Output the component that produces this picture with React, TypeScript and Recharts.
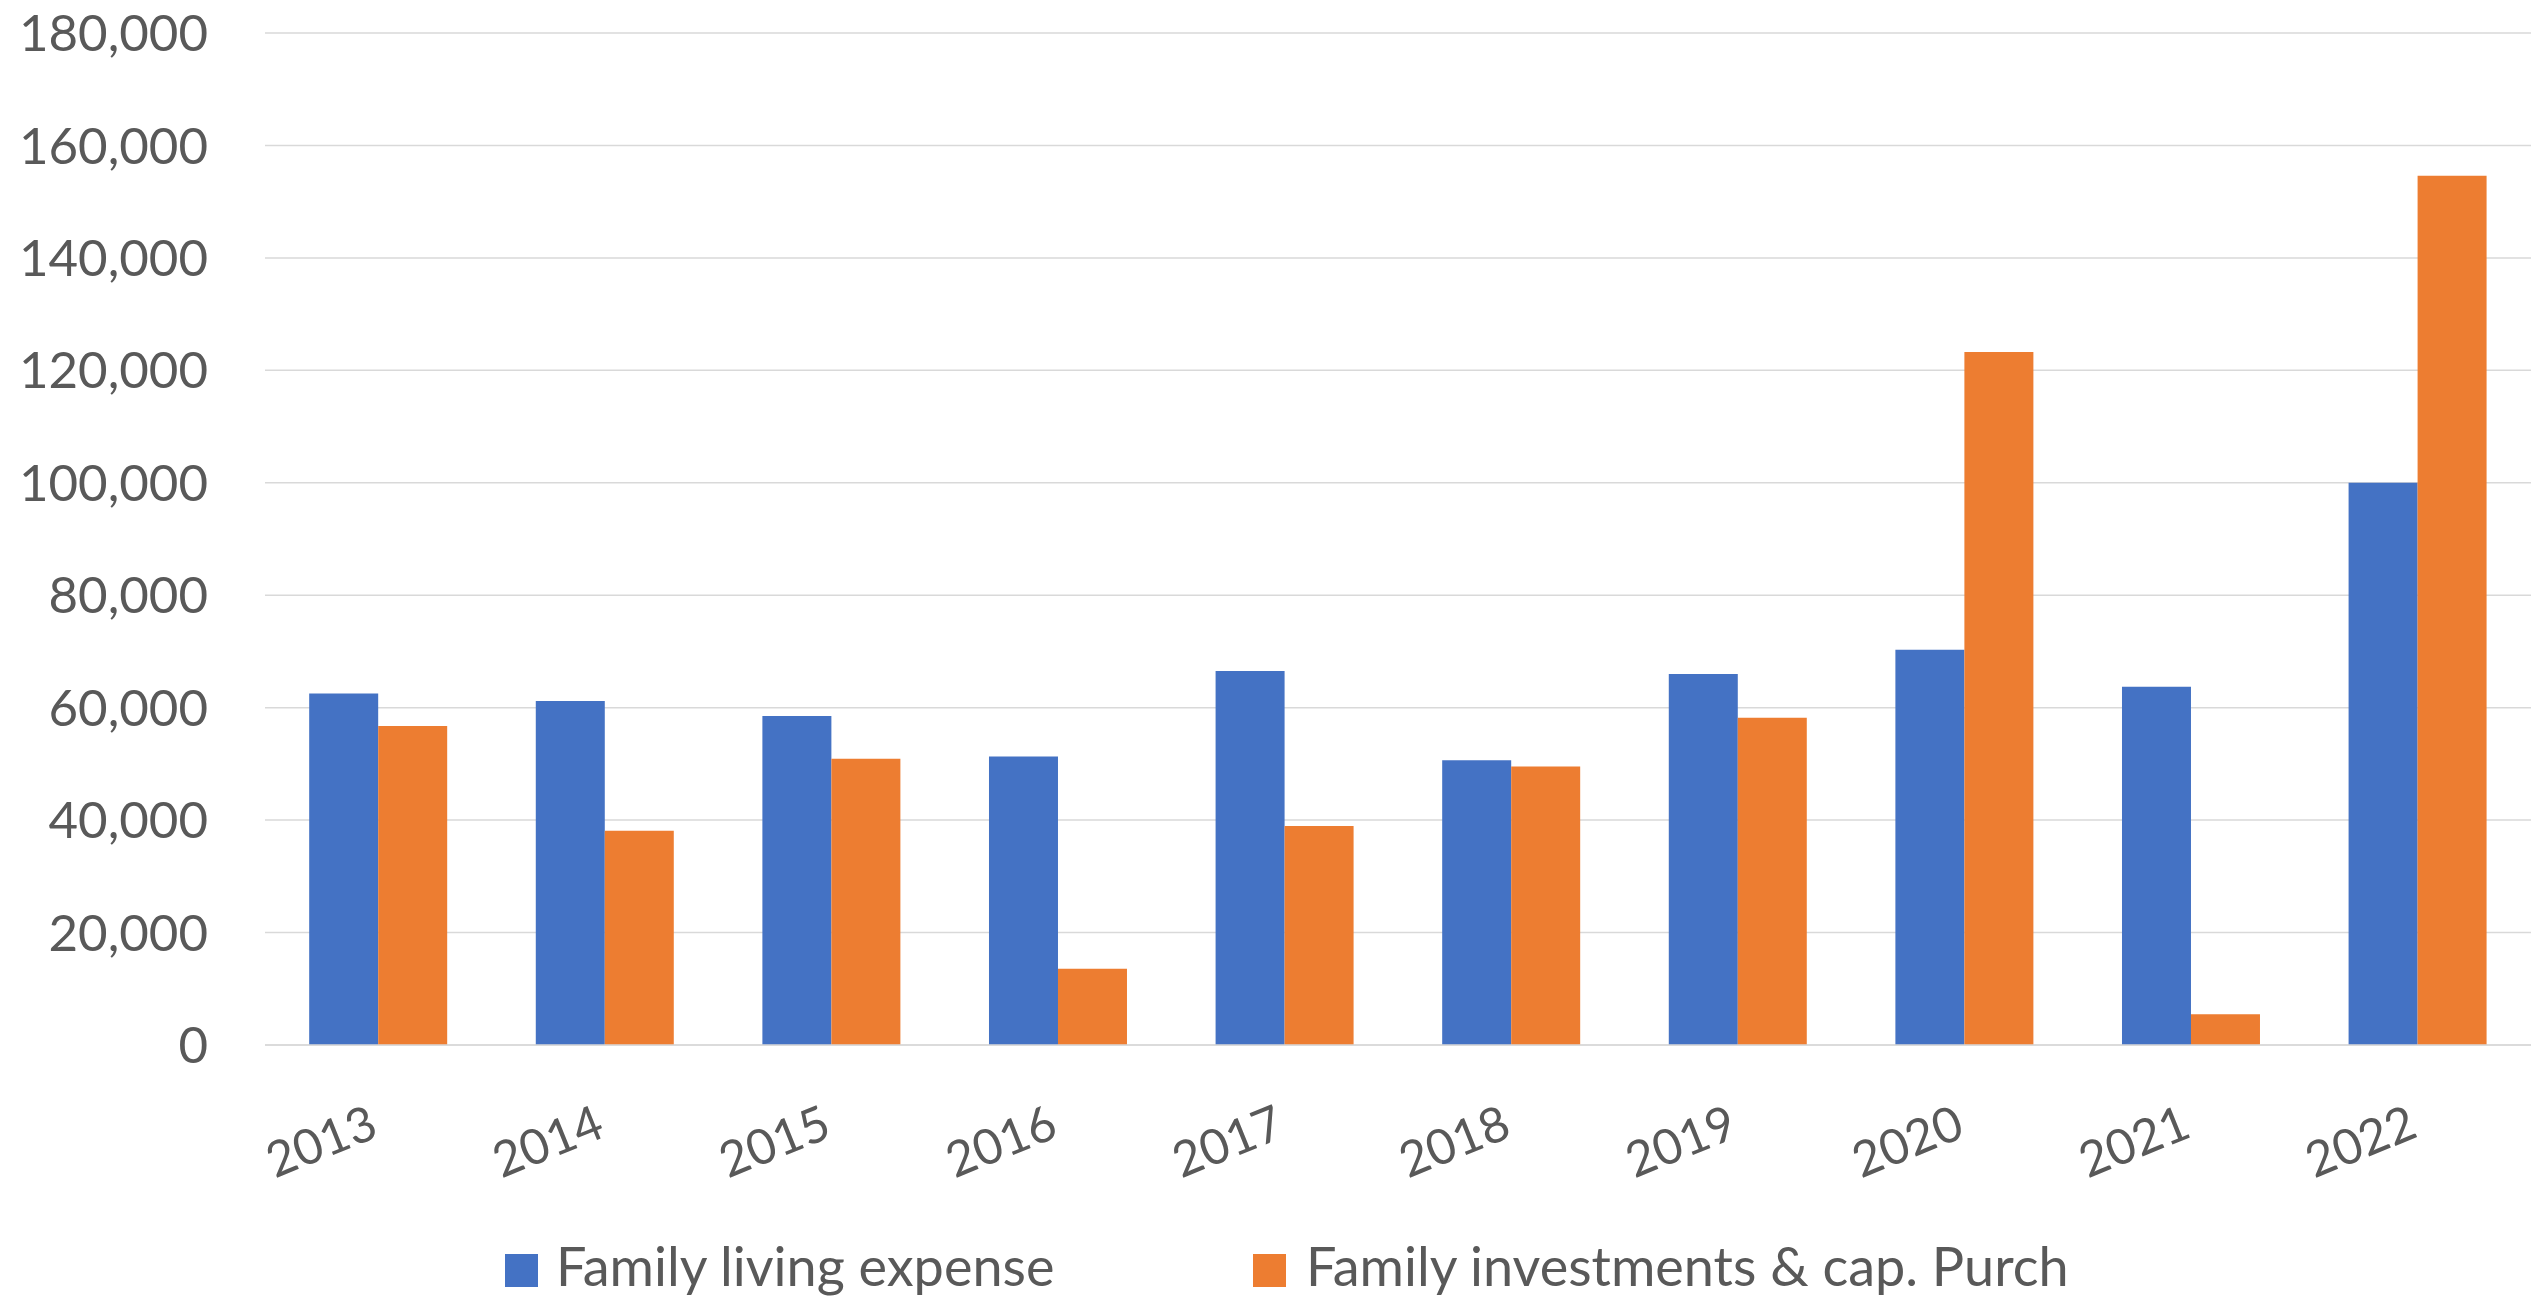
import { BarChart, Bar, XAxis, YAxis, CartesianGrid, Legend } from "recharts";

const years = ["2013", "2014", "2015", "2016", "2017", "2018", "2019", "2020", "2021", "2022"];
const livingExpense = [62500, 61200, 58500, 51300, 66500, 50650, 66000, 70300, 63700, 100000];
const investments = [56750, 38100, 50900, 13550, 38950, 49550, 58200, 123250, 5450, 154600];
const yTicks = [0, 20000, 40000, 60000, 80000, 100000, 120000, 140000, 160000, 180000];

const seriesNames = ["Family living expense", "Family investments & cap. Purch"];

const COLORS = {
  living: "#4472C4",
  invest: "#ED7D31",
  text: "#595959",
  grid: "#D9D9D9",
};

const FONT = "Lato, 'Open Sans', sans-serif";

const data = years.map((year, i) => ({
  year,
  living: livingExpense[i],
  invest: investments[i],
}));

// rotated year labels, end of text sits under the category centre
const YearTick = (props: any) => {
  const { x, y, payload } = props;
  const ty = y + 83;
  return (
    <text
      x={x + 2}
      y={ty}
      transform={`rotate(-22, ${x + 2}, ${ty})`}
      textAnchor="end"
      fill={COLORS.text}
      fontSize={49}
      fontFamily={FONT}
    >
      {payload.value}
    </text>
  );
};

const renderLegend = () => (
  <svg width={2539} height={80} style={{ display: "block" }}>
    <rect x={505} y={35} width={33} height={33} fill={COLORS.living} />
    <text x={556} y={67} fill={COLORS.text} fontSize={54} fontFamily={FONT}>
      {seriesNames[0]}
    </text>
    <rect x={1253} y={35} width={33} height={33} fill={COLORS.invest} />
    <text x={1306} y={67} fill={COLORS.text} fontSize={54} fontFamily={FONT}>
      {seriesNames[1]}
    </text>
  </svg>
);

export default function App() {
  return (
    <div style={{ position: "absolute", left: 0, top: 0, background: "#fff" }}>
      <BarChart
        width={2539}
        height={1299}
        data={data}
        margin={{ top: 33, right: 8, left: 0, bottom: 0 }}
        barGap={0}
        barCategoryGap="19.5%"
      >
        <CartesianGrid vertical={false} stroke={COLORS.grid} strokeWidth={1.5} />
        <XAxis
          dataKey="year"
          height={174}
          axisLine={{ stroke: COLORS.grid, strokeWidth: 1.5 }}
          tickLine={false}
          interval={0}
          tick={<YearTick />}
        />
        <YAxis
          width={265}
          domain={[0, 180000]}
          ticks={yTicks}
          axisLine={false}
          tickLine={false}
          tickMargin={51}
          tick={{ fill: COLORS.text, fontSize: 51, fontFamily: FONT }}
          tickFormatter={(v: number) => v.toLocaleString("en-US")}
        />
        <Legend
          verticalAlign="bottom"
          width={2539}
          height={80}
          wrapperStyle={{ left: 0, bottom: 0 }}
          content={renderLegend}
        />
        <Bar dataKey="living" name={seriesNames[0]} fill={COLORS.living} isAnimationActive={false} />
        <Bar dataKey="invest" name={seriesNames[1]} fill={COLORS.invest} isAnimationActive={false} />
      </BarChart>
    </div>
  );
}
